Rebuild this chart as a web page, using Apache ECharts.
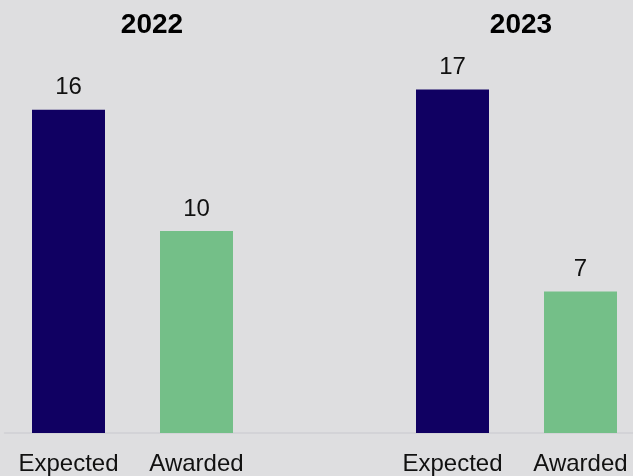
<!DOCTYPE html>
<html>
<head>
<meta charset="utf-8">
<style>
  html, body { margin: 0; padding: 0; background: #dedee0; }
  #chart { width: 633px; height: 476px; }
</style>
<script src="https://cdn.jsdelivr.net/npm/echarts@6/dist/echarts.min.js"></script>
</head>
<body>
<div id="chart"></div>
<script>
// Grant counts per year: expected vs awarded
const years = ['2022', '2023'];
const categories = ['Expected', 'Awarded'];
const expected = [16, 17];
const awarded = [10, 7];

const NAVY = '#100062';
const GREEN = '#74bf88';
const FONT = '"Liberation Sans", Arial, Helvetica, sans-serif';

// One shared axis: each year gets its pair of bars, with an empty slot between years
const axisLabels = [];
const barData = [];
years.forEach((y, i) => {
  if (i > 0) {
    axisLabels.push('');
    barData.push('-');
  }
  axisLabels.push(categories[0]);
  barData.push({ value: expected[i], itemStyle: { color: NAVY } });
  axisLabels.push(categories[1]);
  barData.push({ value: awarded[i], itemStyle: { color: GREEN } });
});

const titleCenters = [152, 521];

const chart = echarts.init(document.getElementById('chart'), null, { renderer: 'canvas' });
chart.setOption({
  backgroundColor: '#dedee0',
  animation: false,
  title: years.map((y, i) => ({
    text: y,
    left: titleCenters[i],
    top: 11,
    padding: 0,
    textAlign: 'center',
    textStyle: { fontFamily: FONT, fontSize: 28, fontWeight: 'bold', color: '#000' }
  })),
  // the last slot runs a little past the right edge of the canvas
  grid: {
    left: 4.5, width: 640, top: 29, bottom: 43,
    containLabel: false, outerBoundsMode: 'none'
  },
  xAxis: {
    type: 'category',
    data: axisLabels,
    axisTick: { show: false },
    axisLine: { show: true, lineStyle: { color: '#d0d0d3', width: 1.5 } },
    axisLabel: { interval: 0, margin: 19, fontFamily: FONT, fontSize: 24, color: '#111' }
  },
  yAxis: {
    type: 'value',
    min: 0,
    max: 20,
    show: false,
    splitLine: { show: false }
  },
  series: [{
    type: 'bar',
    data: barData,
    barWidth: 73,
    label: {
      show: true,
      position: 'top',
      distance: 10,
      fontFamily: FONT,
      fontSize: 24,
      color: '#111'
    }
  }]
});
</script>
</body>
</html>
